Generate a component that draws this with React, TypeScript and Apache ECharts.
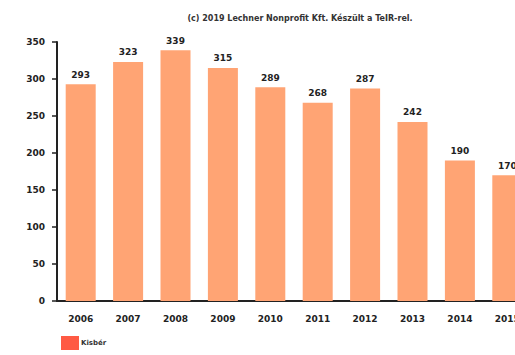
import React, { useEffect, useRef } from "react";
import * as echarts from "echarts";

const years = ["2006", "2007", "2008", "2009", "2010", "2011", "2012", "2013", "2014", "2015"];
const values = [293, 323, 339, 315, 289, 268, 287, 242, 190, 170];
const yTicks = [0, 50, 100, 150, 200, 250, 300, 350];
const seriesName = "Kisbér";
const titleText = "(c) 2019 Lechner Nonprofit Kft. Készült a TeIR-rel.";

export default function App() {
  const ref = useRef<HTMLDivElement>(null);
  useEffect(() => {
    const chart = echarts.init(ref.current!, null, { renderer: "svg" });
    chart.setOption({
      animation: false,
      backgroundColor: "#ffffff",
      textStyle: { fontFamily: "DejaVu Sans" },
      title: {
        text: titleText,
        left: 295,
        top: 9,
        textAlign: "center",
        textStyle: { fontSize: 8, fontWeight: "bold", color: "#333" },
      },
      legend: {
        left: 61,
        top: 336,
        icon: "rect",
        itemWidth: 18,
        itemHeight: 14,
        itemGap: 4,
        data: [{ name: seriesName, itemStyle: { color: "#FF5A44" } }],
        textStyle: { fontSize: 7, fontWeight: "bold", color: "#333", padding: [0, 0, 0, -3] },
        padding: 0,
      },
      grid: { left: 57, right: 0, top: 42, bottom: 54, containLabel: false },
      xAxis: {
        type: "category",
        data: years,
        axisLine: { lineStyle: { color: "#222", width: 2 } },
        axisTick: { alignWithLabel: true, length: 4, lineStyle: { color: "#222", width: 1.5 } },
        axisLabel: { fontSize: 9, fontWeight: "bold", color: "#222", margin: 13 },
      },
      yAxis: {
        type: "value",
        min: yTicks[0],
        max: yTicks[yTicks.length - 1],
        interval: 50,
        axisLine: { show: true, lineStyle: { color: "#222", width: 2 } },
        axisTick: { show: true, length: 5, lineStyle: { color: "#222", width: 1.5 } },
        splitLine: { show: false },
        axisLabel: { fontSize: 9, fontWeight: "bold", color: "#222", margin: 12 },
      },
      series: [
        {
          name: seriesName,
          type: "bar",
          data: values,
          barWidth: 30,
          itemStyle: { color: "#FFA474" },
          label: {
            show: true,
            position: "top",
            distance: 5,
            fontSize: 9,
            fontWeight: "bold",
            color: "#222",
          },
        },
      ],
    });
    return () => chart.dispose();
  }, []);
  return (
    <div style={{ position: "absolute", left: 0, top: 0, width: 515, height: 355, overflow: "hidden" }}>
      <div ref={ref} style={{ width: 531, height: 355 }} />
    </div>
  );
}
